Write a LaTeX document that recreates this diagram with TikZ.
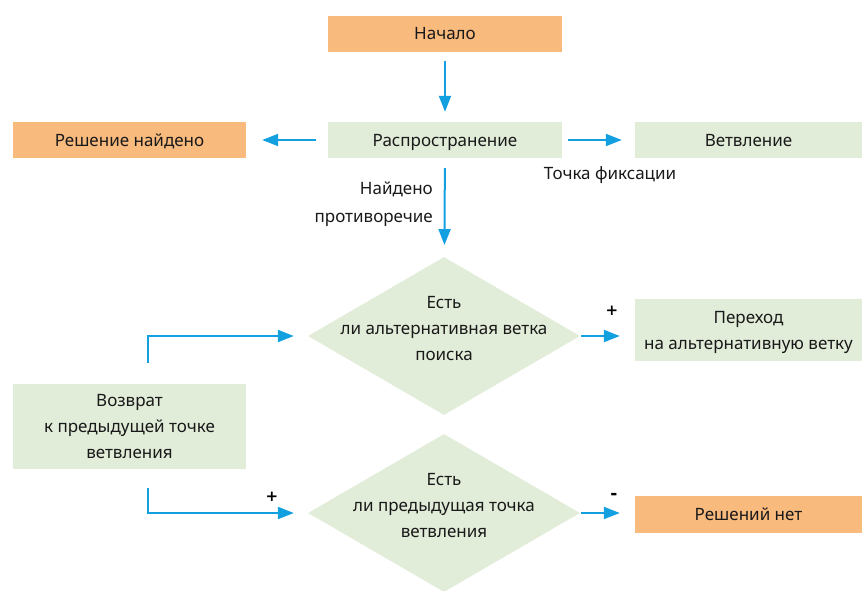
\documentclass[tikz,border=0pt]{standalone}
\usepackage{fontspec}
\setmainfont{Noto Sans}
\newfontfamily\sgnfont{DejaVu Sans}
\usetikzlibrary{arrows.meta,shapes.geometric,calc}
\definecolor{orng}{HTML}{F9BA7E}
\definecolor{grn}{HTML}{E2EDD9}
\definecolor{arrblue}{HTML}{12A0E0}
\tikzset{
  base/.style={inner sep=0pt, align=center, text depth=0pt, font=\fontsize{17}{26}\selectfont, text=black!90},
  obox/.style={base, fill=orng, minimum height=36pt},
  gbox/.style={base, fill=grn, minimum height=36pt},
  dia/.style={diamond, fill=grn, minimum width=272pt, minimum height=158pt, inner sep=0pt},
  lbl/.style={inner sep=0pt, align=center, text depth=0pt, font=\fontsize{17}{26}\selectfont, text=black!90},
  sgn/.style={inner sep=0pt, font=\sgnfont\bfseries\fontsize{15}{15}\selectfont},
  arr/.style={draw=arrblue, line width=2pt, -{Triangle[length=16pt,width=12pt]}},
}
\begin{document}
\begin{tikzpicture}[x=1pt,y=-1pt]
\useasboundingbox (0,0) rectangle (862,590);
\node[obox, minimum width=234pt] (start) at (445,33.5) {Начало};
\node[gbox, minimum width=234pt] (prop) at (445,140) {Распространение};
\node[obox, minimum width=233pt] (found) at (129.5,140) {Решение найдено};
\node[gbox, minimum width=227pt] (branch) at (748.5,140) {Ветвление};
\node[dia] (d1) at (444,336) {};
\node[lbl] (t1) at (444,328) {Есть\\ли альтернативная ветка\\поиска};
\node[dia] (d2) at (444,513) {};
\node[lbl] (t2) at (444,505) {Есть\\ли предыдущая точка\\ветвления};
\node[gbox, minimum width=227pt, minimum height=62pt] (alt) at (748.5,330) {Переход\\на альтернативную ветку};
\node[gbox, minimum width=233pt, minimum height=85pt] (back) at (129.5,426.5) {Возврат\\к предыдущей точке\\ветвления};
\node[obox, minimum width=227pt, minimum height=37pt] (none) at (748.5,514.5) {Решений нет};
\node[lbl] (fix) at (610,173) {Точка фиксации};
\node[lbl, align=right, anchor=east, font=\fontsize{17}{28}\selectfont] (contr) at (433,202) {Найдено\\противоречие};
\node[sgn] (p1) at (612,311) {+};
\node[sgn] (p2) at (272,496.5) {+};
\node[sgn, font=\sgnfont\bfseries\fontsize{17}{17}\selectfont] (m1) at (614,496) {-};
\draw[arr, shorten <=9pt, shorten >=10pt] (start) -- (prop);
\draw[arr, shorten <=12pt, shorten >=16pt] (prop) -- (found);
\draw[arr, shorten <=6pt, shorten >=13pt] (prop) -- (branch);
\draw[arr, shorten <=10pt, shorten >=12pt] (prop) -- (d1);
\draw[arr, shorten <=1pt, shorten >=15pt] (d1.east) -- (alt.west |- d1.east);
\draw[arr, shorten <=1pt, shorten >=15pt] (d2.east) -- (none.west |- d2.east);
\draw[arr, shorten >=14pt] ([xshift=18.5pt,yshift=21pt]back.north) |- (d1.west);
\draw[arr, shorten >=14pt] ([xshift=18.5pt,yshift=-19pt]back.south) |- (d2.west);
\end{tikzpicture}
\end{document}
